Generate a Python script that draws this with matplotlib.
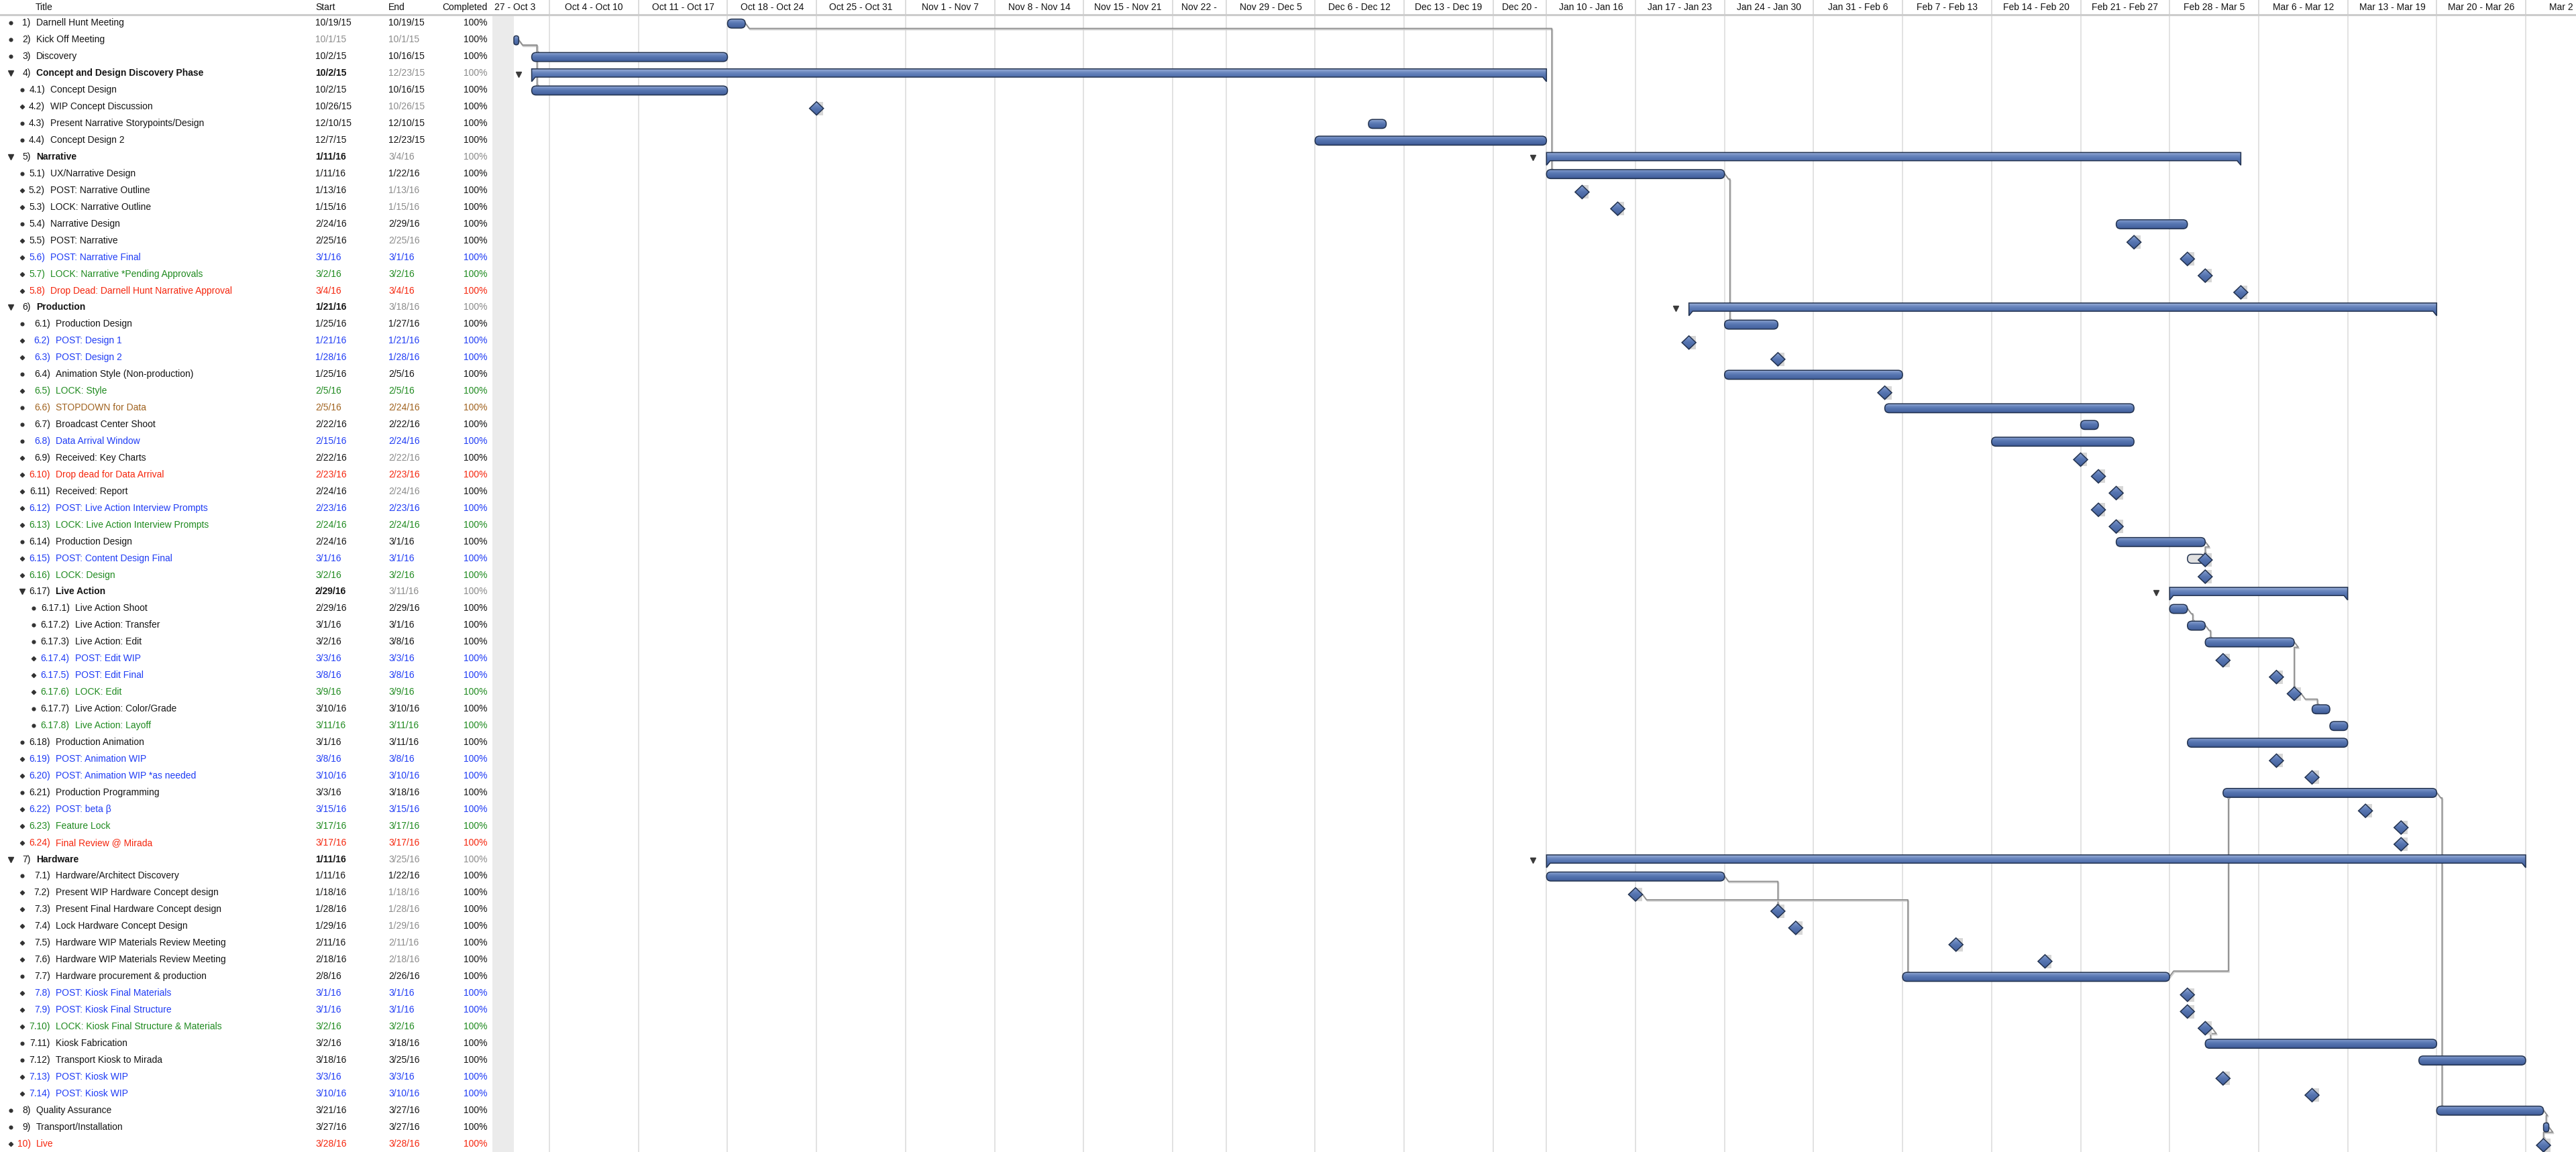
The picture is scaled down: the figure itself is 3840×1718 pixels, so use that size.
import numpy as np
import pandas as pd
import matplotlib
matplotlib.use('Agg')
import matplotlib.pyplot as plt
from matplotlib.patches import FancyBboxPatch, Polygon, Rectangle
from matplotlib.colors import LinearSegmentedColormap
from matplotlib.lines import Line2D
import matplotlib.patheffects as pe

plt.rcParams['font.family'] = ['Liberation Sans', 'DejaVu Sans']

# ---------------- data ----------------
nums = ['1)', '2)', '3)', '4)', '4.1)', '4.2)', '4.3)', '4.4)',
        '5)', '5.1)', '5.2)', '5.3)', '5.4)', '5.5)', '5.6)', '5.7)', '5.8)',
        '6)', '6.1)', '6.2)', '6.3)', '6.4)', '6.5)', '6.6)', '6.7)', '6.8)', '6.9)',
        '6.10)', '6.11)', '6.12)', '6.13)', '6.14)', '6.15)', '6.16)',
        '6.17)', '6.17.1)', '6.17.2)', '6.17.3)', '6.17.4)', '6.17.5)', '6.17.6)',
        '6.17.7)', '6.17.8)', '6.18)', '6.19)', '6.20)', '6.21)', '6.22)', '6.23)', '6.24)',
        '7)', '7.1)', '7.2)', '7.3)', '7.4)', '7.5)', '7.6)', '7.7)', '7.8)', '7.9)',
        '7.10)', '7.11)', '7.12)', '7.13)', '7.14)', '8)', '9)', '10)']

titles = ['Darnell Hunt Meeting', 'Kick Off Meeting', 'Discovery',
          'Concept and Design Discovery Phase', 'Concept Design', 'WIP Concept Discussion',
          'Present Narrative Storypoints/Design', 'Concept Design 2',
          'Narrative', 'UX/Narrative Design', 'POST: Narrative Outline', 'LOCK: Narrative Outline',
          'Narrative Design', 'POST: Narrative', 'POST: Narrative Final',
          'LOCK: Narrative *Pending Approvals', 'Drop Dead: Darnell Hunt Narrative Approval',
          'Production', 'Production Design', 'POST: Design 1', 'POST: Design 2',
          'Animation Style (Non-production)', 'LOCK: Style', 'STOPDOWN for Data',
          'Broadcast Center Shoot', 'Data Arrival Window', 'Received: Key Charts',
          'Drop dead for Data Arrival', 'Received: Report', 'POST: Live Action Interview Prompts',
          'LOCK: Live Action Interview Prompts', 'Production Design', 'POST: Content Design Final',
          'LOCK: Design', 'Live Action', 'Live Action Shoot', 'Live Action: Transfer',
          'Live Action: Edit', 'POST: Edit WIP', 'POST: Edit Final', 'LOCK: Edit',
          'Live Action: Color/Grade', 'Live Action: Layoff', 'Production Animation',
          'POST: Animation WIP', 'POST: Animation WIP *as needed', 'Production Programming',
          'POST: beta β', 'Feature Lock', 'Final Review @ Mirada',
          'Hardware', 'Hardware/Architect Discovery', 'Present WIP Hardware Concept design',
          'Present Final Hardware Concept design', 'Lock Hardware Concept Design',
          'Hardware WIP Materials Review Meeting', 'Hardware WIP Materials Review Meeting',
          'Hardware procurement & production', 'POST: Kiosk Final Materials',
          'POST: Kiosk Final Structure', 'LOCK: Kiosk Final Structure & Materials',
          'Kiosk Fabrication', 'Transport Kiosk to Mirada', 'POST: Kiosk WIP', 'POST: Kiosk WIP',
          'Quality Assurance', 'Transport/Installation', 'Live']

starts = ['10/19/15', '10/1/15', '10/2/15', '10/2/15', '10/2/15', '10/26/15', '12/10/15', '12/7/15',
          '1/11/16', '1/11/16', '1/13/16', '1/15/16', '2/24/16', '2/25/16', '3/1/16', '3/2/16', '3/4/16',
          '1/21/16', '1/25/16', '1/21/16', '1/28/16', '1/25/16', '2/5/16', '2/5/16', '2/22/16',
          '2/15/16', '2/22/16', '2/23/16', '2/24/16', '2/23/16', '2/24/16', '2/24/16', '3/1/16',
          '3/2/16', '2/29/16', '2/29/16', '3/1/16', '3/2/16', '3/3/16', '3/8/16', '3/9/16',
          '3/10/16', '3/11/16', '3/1/16', '3/8/16', '3/10/16', '3/3/16', '3/15/16', '3/17/16',
          '3/17/16', '1/11/16', '1/11/16', '1/18/16', '1/28/16', '1/29/16', '2/11/16', '2/18/16',
          '2/8/16', '3/1/16', '3/1/16', '3/2/16', '3/2/16', '3/18/16', '3/3/16', '3/10/16',
          '3/21/16', '3/27/16', '3/28/16']

ends = ['10/19/15', '10/1/15', '10/16/15', '12/23/15', '10/16/15', '10/26/15', '12/10/15', '12/23/15',
        '3/4/16', '1/22/16', '1/13/16', '1/15/16', '2/29/16', '2/25/16', '3/1/16', '3/2/16', '3/4/16',
        '3/18/16', '1/27/16', '1/21/16', '1/28/16', '2/5/16', '2/5/16', '2/24/16', '2/22/16',
        '2/24/16', '2/22/16', '2/23/16', '2/24/16', '2/23/16', '2/24/16', '3/1/16', '3/1/16',
        '3/2/16', '3/11/16', '2/29/16', '3/1/16', '3/8/16', '3/3/16', '3/8/16', '3/9/16',
        '3/10/16', '3/11/16', '3/11/16', '3/8/16', '3/10/16', '3/18/16', '3/15/16', '3/17/16',
        '3/17/16', '3/25/16', '1/22/16', '1/18/16', '1/28/16', '1/29/16', '2/11/16', '2/18/16',
        '2/26/16', '3/1/16', '3/1/16', '3/2/16', '3/18/16', '3/25/16', '3/3/16', '3/10/16',
        '3/27/16', '3/27/16', '3/28/16']

# t = task, s = stub, e = stub at end of day, g = group, m = milestone, l = slipped milestone
kinds = list('tstgtmtt' 'gtmmtmmmm' 'gtmmtmtttmmmmmtlm' 'gtttmmmtt' 'tmmtmmm'
             'gtmmmmmtmmmttmm' 'tem')

# k black, b blue, g green, r red, o brown
colors = list('kkkkkkkk' 'kkkkkkbgr' 'kkbbkgokbkrkbgkbg' 'kkkkbbgkg' 'kbbkbgr'
              'kkkkkkkkbbgkkbb' 'kkr')

completed = ['100%'] * len(nums)

# calendar: working days only, with holiday gaps and one worked Sunday
calendar_from, calendar_to = '2015-09-28', '2016-04-01'
days_off = [('2015-11-26', '2015-11-27'), ('2015-12-24', '2016-01-08')]
extra_days = ['2016-03-27']
first_day = '2015-10-01'

# header labels as shown (first and last are cut by the view)
week_labels = ['27 - Oct 3', 'Oct 4 - Oct 10', 'Oct 11 - Oct 17', 'Oct 18 - Oct 24',
               'Oct 25 - Oct 31', 'Nov 1 - Nov 7', 'Nov 8 - Nov 14', 'Nov 15 - Nov 21',
               'Nov 22 -', 'Nov 29 - Dec 5', 'Dec 6 - Dec 12', 'Dec 13 - Dec 19', 'Dec 20 -',
               'Jan 10 - Jan 16', 'Jan 17 - Jan 23', 'Jan 24 - Jan 30', 'Jan 31 - Feb 6',
               'Feb 7 - Feb 13', 'Feb 14 - Feb 20', 'Feb 21 - Feb 27', 'Feb 28 - Mar 5',
               'Mar 6 - Mar 12', 'Mar 13 - Mar 19', 'Mar 20 - Mar 26', 'Mar 2']

deps = [('1)', '5.1)'), ('2)', '3)'), ('2)', '4.1)'), ('5.1)', '6.1)'), ('6.14)', '6.15)'),
        ('6.17.1)', '6.17.2)'), ('6.17.2)', '6.17.3)'), ('6.17.3)', '6.17.6)'),
        ('6.17.6)', '6.17.7)'), ('6.21)', '8)'), ('7.7)', '6.21)'), ('7.1)', '7.3)'),
        ('7.2)', '7.7)'), ('7.10)', '7.11)'), ('8)', '9)'), ('9)', '10)')]

# ---------------- calendar ----------------
days = pd.bdate_range(calendar_from, calendar_to)
off = pd.DatetimeIndex([])
for a, b in days_off:
    off = off.append(pd.date_range(a, b))
days = days.difference(off).union(pd.DatetimeIndex(extra_days))
i0 = days.searchsorted(pd.Timestamp(first_day))


def wd(d):
    return days.searchsorted(pd.Timestamp(d)) - i0


sd = pd.to_datetime(starts, format='%m/%d/%y')
ed = pd.to_datetime(ends, format='%m/%d/%y')
n = len(nums)

x0 = np.zeros(n)
x1 = np.zeros(n)
for i, k in enumerate(kinds):
    if k == 't':
        x0[i], x1[i] = wd(sd[i]), wd(ed[i]) + 1
    elif k == 's':
        x0[i] = wd(sd[i]); x1[i] = x0[i] + 0.27
    elif k == 'e':
        x0[i] = wd(ed[i]) + 1; x1[i] = x0[i] + 0.3
    elif k == 'm':
        x0[i] = x1[i] = wd(sd[i])
    elif k == 'l':
        x0[i] = x1[i] = wd(sd[i]) + 1
for i, k in enumerate(kinds):
    if k == 'g':
        pre = nums[i][:-1] + '.'
        kids = [j for j in range(n) if nums[j].startswith(pre) and kinds[j] != 'g']
        x0[i] = wd(sd[i])
        x1[i] = max(x1[j] for j in kids)

# ---------------- layout ----------------
W, H = 3840, 1718
TAB_W, HEAD_H = 734, 22
OCT1_X = 766
PX_DAY = 26.54
PX_ROW = (H - HEAD_H) / n
ASP = PX_DAY / PX_ROW
dxp, dyp = 1 / PX_DAY, 1 / PX_ROW
FS = 10
EM = FS * 100 / 72

BT, BB = 6.0 * dyp, 7.4 * dyp           # bar top / bottom from row centre
D_OFF, DX, DY = 2.5 * dyp, 10.5 * dxp, 10 * dyp
EDGE = '#22324f'
LINE = '#8d8d8d'

TXT = {'k': '#141414', 'b': '#1f3cf5', 'g': '#1f8a1f', 'r': '#f5250c', 'o': '#a0621e'}
GRAY = '#8a8a8a'

fig = plt.figure(figsize=(W / 100, H / 100), dpi=100)
fb = (H - HEAD_H) / H
ax = fig.add_axes([TAB_W / W, 0, 1 - TAB_W / W, fb])
tab = fig.add_axes([0, 0, TAB_W / W, fb])
hd = fig.add_axes([TAB_W / W, fb, 1 - TAB_W / W, HEAD_H / H])
htab = fig.add_axes([0, fb, TAB_W / W, HEAD_H / H])
for a in (ax, tab, hd, htab):
    a.axis('off')

xl = -(OCT1_X - TAB_W) / PX_DAY
xr = xl + (W - TAB_W) / PX_DAY

bar_cmap = LinearSegmentedColormap.from_list(
    'bar', ['#9bb0d8', '#6c88c0', '#5574b0', '#4c6aa6', '#3e5a95'])
grad = np.linspace(0, 1, 64).reshape(-1, 1)


def shade(patch, ext, z=3):
    ax.add_patch(patch)
    im = ax.imshow(grad, cmap=bar_cmap, extent=ext, aspect='auto',
                   interpolation='bilinear', zorder=z)
    im.set_clip_path(patch)


def bar(a, b, yc, face=None, z=3):
    y0, y1 = yc - BT, yc + BB
    r = min((y1 - y0) / (2 * ASP), (b - a) / 2) * 0.98
    p = FancyBboxPatch((a, y0), b - a, y1 - y0,
                       boxstyle=f'round,pad=0,rounding_size={r}', mutation_aspect=ASP,
                       fc='none' if face is None else face, ec=EDGE, lw=1.1, zorder=z + 0.1)
    if face is None:
        shade(p, (a, b, y1, y0), z)
    else:
        ax.add_patch(p)


def diamond(xc, yc):
    yc = yc + D_OFF
    ax.add_patch(Rectangle((xc, yc - DY), DX * 0.95, 2 * DY, fc='#d6d6d6', ec='none', zorder=2.8))
    p = Polygon([(xc - DX, yc), (xc, yc - DY), (xc + DX, yc), (xc, yc + DY)],
                closed=True, fc='none', ec=EDGE, lw=1.1, zorder=3.6)
    shade(p, (xc - DX, xc + DX, yc + DY, yc - DY), 3.5)


def group_bar(a, b, yc):
    top, bot, tip, nw = yc - 6.6 * dyp, yc + 5.7 * dyp, yc + 12.4 * dyp, 5.5 * dxp
    p = Polygon([(a, top), (b, top), (b, tip), (b - nw, bot), (a + nw, bot), (a, tip)],
                closed=True, fc='none', ec=EDGE, lw=1.1, zorder=3.1)
    shade(p, (a, b, tip, top))
    ax.plot(a - 20 * dxp, yc + 1.5 * dyp, marker='v', ms=5.5, color='#3a3a3a', zorder=4)


# week columns
weeks = pd.date_range('2015-09-27', '2016-03-27', freq='7D')
cols = []
for ws in weeks:
    a = days.searchsorted(ws) - i0
    b = days.searchsorted(ws + pd.Timedelta(days=7)) - i0
    if b > a:
        cols.append((a, b))

ax.axvspan(xl, 0, color='#ebebeb', zorder=0.5, lw=0)
last = len(cols) - 1
for w, ((a, b), lab) in enumerate(zip(cols, week_labels)):
    if w == 0:
        hd.text(xl + 0.1, 0.5, lab, ha='left', va='center', fontsize=FS, color='#111111')
        continue
    ax.axvline(a, color='#dadada', lw=1.1, zorder=1)
    hd.axvline(a, color='#d2d2d2', lw=1.1)
    if w == last:
        hd.text(a + 1.3, 0.5, lab, ha='left', va='center', fontsize=FS, color='#111111')
    else:
        hd.text((a + b) / 2, 0.5, lab, ha='center', va='center', fontsize=FS,
                color='#111111', clip_on=True)

# bars and milestones
for i, k in enumerate(kinds):
    yc = i + 0.5
    if k in 'tse':
        bar(x0[i], x1[i], yc)
    elif k == 'm':
        diamond(x0[i], yc)
    elif k == 'l':
        bar(x0[i] - 1, x0[i], yc, face='#e0e0e0', z=2.9)
        diamond(x0[i], yc)
    elif k == 'g':
        group_bar(x0[i], x1[i], yc)

# dependency connectors
pos = {s: i for i, s in enumerate(nums)}
shadow = [pe.SimpleLineShadow(offset=(0.8, -1.3), shadow_color='#cfcfcf', alpha=1), pe.Normal()]
for a_, b_ in deps:
    i, j = pos[a_], pos[b_]
    down = j > i
    sgn = 1 if down else -1
    if kinds[i] in 'ml':
        px, py = x0[i] + DX, i + 0.5 + D_OFF
    else:
        px, py = x1[i], i + 0.5
    if kinds[j] in 'ml':
        tx = x0[j]
        ty = j + 0.5 + D_OFF - sgn * DY
    else:
        tx = x0[j] + (8 * dxp if kinds[j] == 't' else (x1[j] - x0[j]) / 2)
        ty = j + 0.5 - BT if down else j + 0.5 + BB
    p1y = py + sgn * 8 * dyp
    xs = [px, px + 6 * dxp, tx, tx]
    ys = [py, p1y, p1y, ty]
    ax.plot(xs, ys, color=LINE, lw=1.3, zorder=2, solid_joinstyle='round',
            path_effects=shadow)
    ax.plot(tx, ty, 'o', ms=2.6, mfc='white', mec=LINE, mew=0.8, zorder=2.2)

ax.set_xlim(xl, xr)
ax.set_ylim(n, 0)
hd.set_xlim(xl, xr)
hd.set_ylim(0, 1)

# ---------------- table ----------------
tab.set_xlim(0, TAB_W)
tab.set_ylim(n, 0)
htab.set_xlim(0, TAB_W)
htab.set_ylim(0, 1)

CW = {'.': 0.278, ')': 0.333}


def num_w(s):
    return sum(CW.get(c, 0.556) for c in s) * EM


parents = [s[:-1].rsplit('.', 1)[0] if '.' in s else '' for s in nums]
widest = {}
for s, p in zip(nums, parents):
    widest[p] = max(widest.get(p, 0), num_w(s))

for i in range(n):
    yc = i + 0.5
    lvl = nums[i].count('.')
    k = kinds[i]
    c = TXT[colors[i]]
    bx = 16 + 17 * lvl
    if k == 'g':
        tab.plot(bx, yc, marker='v', ms=6, color='#333333')
    elif k in 'ml':
        tab.plot(bx, yc, marker='D', ms=3.2, color='#333333')
    else:
        tab.plot(bx, yc, marker='o', ms=3.4, color='#333333')
    nr = 25.5 + 17.5 * lvl + widest[parents[i]]
    wt = 'bold' if k == 'g' else 'normal'
    tab.text(nr, yc, nums[i], ha='right', va='center', fontsize=FS, color=c)
    tab.text(nr + 8.5, yc, titles[i], ha='left', va='center', fontsize=FS, color=c, weight=wt)
    muted = colors[i] == 'k' and (k in 'gm' or nums[i] == '2)')
    tab.text(470, yc, starts[i], ha='left', va='center', fontsize=FS, weight=wt,
             color=GRAY if nums[i] == '2)' else c)
    tab.text(579, yc, ends[i], ha='left', va='center', fontsize=FS,
             color=GRAY if muted else c)
    tab.text(726, yc, completed[i], ha='right', va='center', fontsize=FS,
             color=GRAY if k == 'g' else c)

for x, lab, ha in [(53, 'Title', 'left'), (470, 'Start', 'left'), (579, 'End', 'left'),
                   (726, 'Completed', 'right')]:
    htab.text(x, 0.5, lab, ha=ha, va='center', fontsize=FS, color='#111111')

fig.add_artist(Line2D([0, 1], [fb, fb], transform=fig.transFigure, color='#cccccc', lw=2.2))

fig.savefig('out.png', dpi=100, facecolor='white')
